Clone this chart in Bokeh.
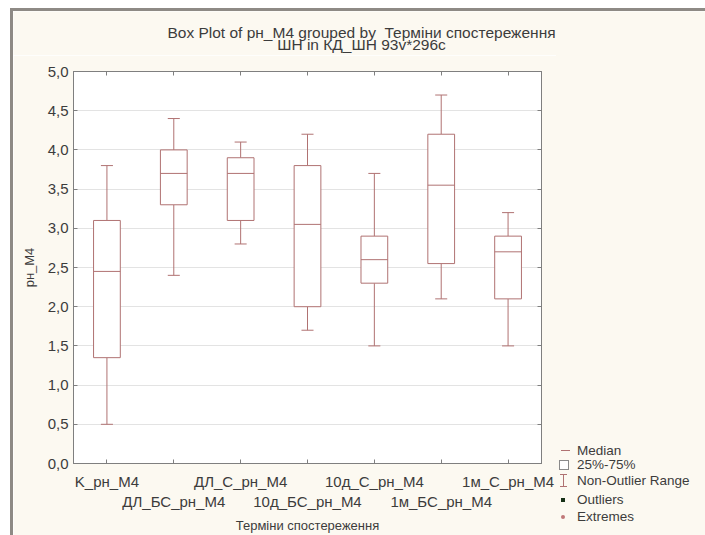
from bokeh.plotting import figure
from bokeh.layouts import column, row
from bokeh.models import (Range1d, FixedTicker, CustomJSTickFormatter, LinearAxis,
                          Div, Spacer)
from bokeh.core.properties import value
from bokeh.embed import file_html
from bokeh.resources import INLINE

# --- data -------------------------------------------------------------
categories = ["K_рн_М4", "ДЛ_БС_рн_М4", "ДЛ_С_рн_М4", "10д_БС_рн_М4",
              "10д_С_рн_М4", "1м_БС_рн_М4", "1м_С_рн_М4"]
whisker_low = [0.5, 2.4, 2.8, 1.7, 1.5, 2.1, 1.5]
q1 = [1.35, 3.3, 3.1, 2.0, 2.3, 2.55, 2.1]
median = [2.45, 3.7, 3.7, 3.05, 2.6, 3.55, 2.7]
q3 = [3.1, 4.0, 3.9, 3.8, 2.9, 4.2, 2.9]
whisker_high = [3.8, 4.4, 4.1, 4.2, 3.7, 4.7, 3.2]
y_ticks = [0.0, 0.5, 1.0, 1.5, 2.0, 2.5, 3.0, 3.5, 4.0, 4.5, 5.0]
legend_labels = ["Median", "25%-75%", "Non-Outlier Range", "Outliers", "Extremes"]

title_lines = ["Box Plot of рн_М4 grouped by\u00a0 Терміни спостереження",
               "ШН in КД_ШН 93v*296c"]

# --- styling ----------------------------------------------------------
FONT = "Liberation Sans"
BOX = "#b07272"
TEXT = "#3c3c3c"
BG = "#fcf9f1"
RIM = "#8e8a85"
FRAME = "#7f7f7f"

PAGE_W, PAGE_H = 705, 535
OFF_X, OFF_Y = 10, 8            # white margin outside the window rim
RIM_W = 3
X0, Y0 = OFF_X + RIM_W, OFF_Y + RIM_W   # top-left of the cream area
INNER_W, INNER_H = PAGE_W - X0, PAGE_H - Y0
TITLE_H = 44                     # height of the title strip
PLOT_W = 543                     # main plot canvas width
LEG_W = INNER_W - PLOT_W
PLOT_H = INNER_H - TITLE_H
# frame edges inside the main plot canvas
FL, FR, FT, FB = 60, 528, 16, 408

# --- title strip (pixel data units, y pointing down) -------------------
tp = figure(width=INNER_W, height=TITLE_H, output_backend="svg", toolbar_location=None,
            x_range=Range1d(0, INNER_W), y_range=Range1d(TITLE_H, 0),
            x_axis_type=None, y_axis_type=None, min_border=0,
            background_fill_color=BG, border_fill_color=BG, outline_line_color=None)
tp.grid.visible = False
tp.text(x=[361 - X0] * len(title_lines), y=[32 - Y0, 44 - Y0], text=title_lines,
        text_font=value(FONT), text_font_size="15.5px", text_color=TEXT,
        text_align="center", text_baseline="middle")

# --- main box plot ----------------------------------------------------
xs = list(range(len(categories)))
half_box = 0.2
half_cap = 0.09

p = figure(width=PLOT_W, height=PLOT_H, output_backend="svg", toolbar_location=None,
           x_range=Range1d(-0.5, len(categories) - 0.5), y_range=Range1d(0, 5),
           min_border_left=FL, min_border_right=PLOT_W - FR,
           min_border_top=FT, min_border_bottom=PLOT_H - FB,
           background_fill_color="white", border_fill_color=BG,
           outline_line_color=FRAME, outline_line_width=1)

p.xgrid.grid_line_color = None
p.ygrid.grid_line_color = "#e3e3e3"
p.ygrid.ticker = FixedTicker(ticks=y_ticks)

tick_fmt_x = CustomJSTickFormatter(args=dict(labels=categories), code="""
    const i = Math.round(tick);
    const s = labels[i] || "";
    return (i % 2 == 1) ? "\\n" + s : s;
""")
tick_fmt_y = CustomJSTickFormatter(code="return tick.toFixed(1).replace('.', ',');")

xa = p.xaxis[0]
xa.ticker = FixedTicker(ticks=xs)
xa.formatter = tick_fmt_x
xa.axis_label = "Терміни спостереження"
ya = p.yaxis[0]
ya.ticker = FixedTicker(ticks=y_ticks)
ya.formatter = tick_fmt_y
ya.axis_label = "рн_М4"

for ax in (xa, ya):
    ax.axis_line_color = FRAME
    ax.major_tick_in = 4
    ax.major_tick_out = 0
    ax.major_tick_line_color = FRAME
    ax.minor_tick_line_color = None
    ax.major_label_text_font = FONT
    ax.major_label_text_font_size = "15px"
    ax.major_label_text_color = TEXT
    ax.axis_label_text_font = FONT
    ax.axis_label_text_font_size = "13px"
    ax.axis_label_text_font_style = "normal"
    ax.axis_label_text_color = TEXT
xa.major_label_standoff = 9
xa.axis_label_standoff = 5
ya.major_label_standoff = 5
ya.axis_label_standoff = 8

# inside ticks (no labels) on the top and right edges
no_labels = CustomJSTickFormatter(code="return '';")
for loc, ticks in (("above", xs), ("right", y_ticks)):
    p.add_layout(LinearAxis(ticker=FixedTicker(ticks=ticks), formatter=no_labels,
                            major_label_standoff=0,
                            axis_line_color=FRAME, major_tick_in=4, major_tick_out=0,
                            major_tick_line_color=FRAME, minor_tick_line_color=None), loc)

p.segment(x0=xs, x1=xs, y0=whisker_low, y1=q1, line_color=BOX, line_width=1)
p.segment(x0=xs, x1=xs, y0=q3, y1=whisker_high, line_color=BOX, line_width=1)
p.segment(x0=[x - half_cap for x in xs], x1=[x + half_cap for x in xs],
          y0=whisker_high, y1=whisker_high, line_color=BOX, line_width=1)
p.segment(x0=[x - half_cap for x in xs], x1=[x + half_cap for x in xs],
          y0=whisker_low, y1=whisker_low, line_color=BOX, line_width=1)
p.vbar(x=xs, width=2 * half_box, bottom=q1, top=q3, fill_color="white",
       line_color=BOX, line_width=1)
p.segment(x0=[x - half_box for x in xs], x1=[x + half_box for x in xs],
          y0=median, y1=median, line_color=BOX, line_width=1)

# --- legend strip (HTML, positioned in pixels) -------------------------
LX = X0 + PLOT_W          # page x of the legend strip
LY = Y0 + TITLE_H         # page y of the legend strip
row_y = [451, 465, 481, 500, 517]


def block(left, top, width, height, css):
    return (f'<div style="position:absolute;left:{left - LX}px;top:{top - LY}px;'
            f'width:{width}px;height:{height}px;box-sizing:border-box;{css}"></div>')


parts = []
for txt, yc in zip(legend_labels, row_y):
    parts.append(f'<div style="position:absolute;left:{577 - LX}px;top:{yc - 8 - LY}px;'
                 f'line-height:16px;white-space:nowrap;">{txt}</div>')
parts += [
    block(561, 450, 9, 1, f"background:{BOX};"),                      # median
    block(559, 460, 10, 10, "background:white;border:1px solid #8a8a8a;"),  # box
    block(563, 474, 1, 13, f"background:{BOX};"),                      # whisker stem
    block(560, 474, 7, 1, f"background:{BOX};"),
    block(560, 486, 7, 1, f"background:{BOX};"),
    block(561, 498, 4, 4, "background:#163016;"),                      # outlier
    block(561, 515, 4, 4, "background:#c07878;border-radius:50%;"),    # extreme
]
legend_html = (f'<div style="position:relative;width:{LEG_W}px;height:{PLOT_H}px;'
               f"font-family:'{FONT}';font-size:13.5px;color:{TEXT};\">"
               + "".join(parts) + "</div>")
lp = Div(text=legend_html, width=LEG_W, height=PLOT_H, margin=0,
         styles={"background-color": BG, "overflow": "hidden"})

# --- page: white margin, grey window rim, cream window ----------------
rim_top = Div(text="", width=PAGE_W - OFF_X, height=RIM_W, margin=0,
              styles={"background-color": RIM})
rim_left = Div(text="", width=RIM_W, height=INNER_H, margin=0,
               styles={"background-color": RIM})
window = column(tp, row(p, lp, spacing=0), spacing=0)
page = column(
    Spacer(width=PAGE_W, height=OFF_Y),
    row(Spacer(width=OFF_X, height=PAGE_H - OFF_Y),
        column(rim_top, row(rim_left, window, spacing=0), spacing=0),
        spacing=0),
    spacing=0,
)

open("out.html", "w").write(file_html(page, INLINE))
